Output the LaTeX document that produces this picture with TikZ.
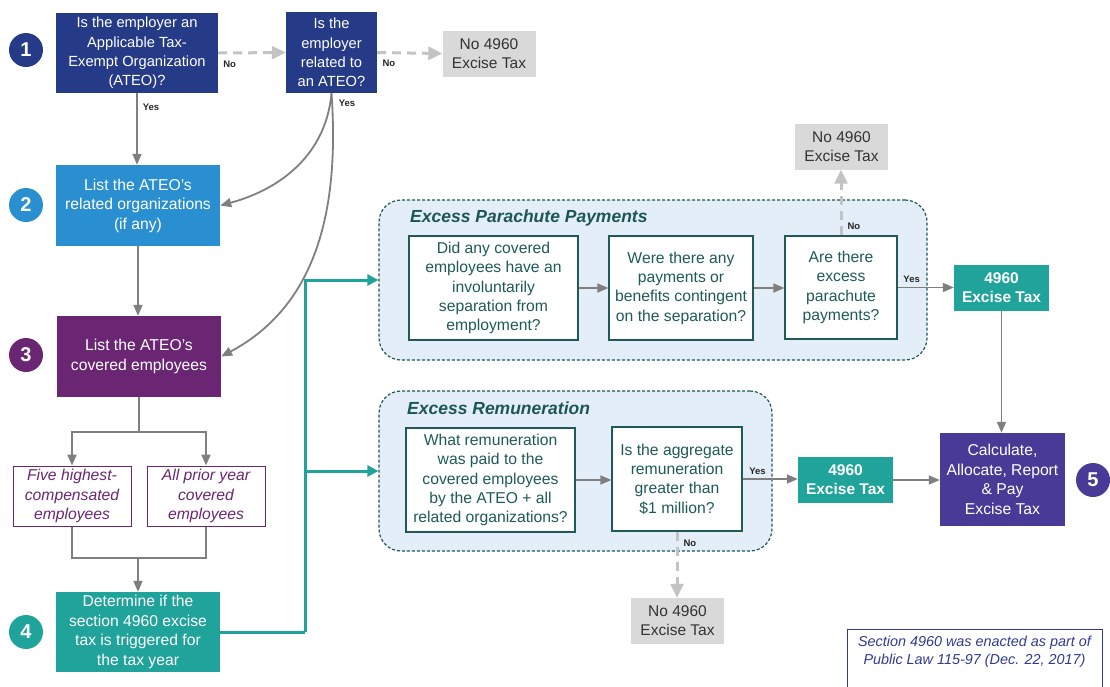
\documentclass[tikz,border=0pt]{standalone}
\usepackage{fontspec}
\setmainfont{Liberation Sans}
\usetikzlibrary{arrows.meta}

\definecolor{ateonavy}{HTML}{263B87}
\definecolor{ateoblue}{HTML}{2A8FD0}
\definecolor{ateopurple}{HTML}{6B2673}
\definecolor{taxteal}{HTML}{20A39A}
\definecolor{payindigo}{HTML}{4A3A98}
\definecolor{nogray}{HTML}{D9D9D9}
\definecolor{notext}{HTML}{333333}
\definecolor{flowgray}{HTML}{7F7F7F}
\definecolor{dashgray}{HTML}{C3C3C3}
\definecolor{groupline}{HTML}{1D5755}
\definecolor{groupfill}{HTML}{E3EEF8}
\definecolor{grouptext}{HTML}{1E5B58}
\definecolor{noteblue}{HTML}{2E3B8F}
\definecolor{lbltext}{HTML}{262626}

\begin{document}
\begin{tikzpicture}[x=1pt,y=-1pt,
  stepbox/.style={inner sep=0pt, text=white, align=center, font=\fontsize{15.7}{19.5}\selectfont},
  numdot/.style={circle, inner sep=0pt, minimum size=34pt, text=white, font=\fontsize{20}{20}\selectfont\bfseries},
  nobox/.style={fill=nogray, text=notext, inner sep=0pt, minimum width=93pt, minimum height=46pt, align=center, font=\fontsize{15.5}{19.3}\selectfont},
  taxbox/.style={fill=taxteal, text=white, inner sep=0pt, minimum width=95pt, minimum height=46pt, align=center, font=\fontsize{15.5}{19.3}\selectfont\bfseries},
  qbox/.style={draw=grouptext, fill=white, line width=1.2pt, text=grouptext, align=center, inner sep=0pt, font=\fontsize{15.7}{19.3}\selectfont},
  grp/.style={draw=groupline, fill=groupfill, dash pattern=on 3pt off 2pt, line width=1.2pt, rounded corners=22pt, inner sep=0pt},
  grptitle/.style={anchor=base west, inner sep=0pt, text=groupline, font=\fontsize{17.5}{20}\selectfont\bfseries\itshape},
  pick/.style={draw=ateopurple, fill=white, line width=1pt, text=ateopurple, align=center, inner sep=0pt, minimum width=118pt, minimum height=60pt, font=\fontsize{15.7}{19.5}\selectfont\itshape},
  flow/.style={draw=flowgray, line width=1.8pt},
  flowarrow/.style={flow, -{Triangle[length=11pt,width=9pt]}},
  noarrow/.style={draw=dashgray, line width=3pt, dash pattern=on 9pt off 6pt, -{Triangle[length=14pt,width=13pt]}},
  tealarrow/.style={draw=taxteal, line width=3pt, -{Triangle[length=11pt,width=11pt]}},
  lbl/.style={font=\fontsize{9.5}{10}\selectfont\bfseries, text=lbltext, inner sep=1pt},
]
\useasboundingbox (0,0) rectangle (1110,686);

% left column
\node[numdot, fill=ateonavy] (n1) at (26,50) {1};
\node[stepbox, fill=ateonavy, minimum width=162pt, minimum height=80pt, font=\fontsize{14.7}{19.4}\selectfont] (q1) at (137,53) {Is the employer an\\Applicable Tax-\\Exempt Organization\\(ATEO)?};
\node[stepbox, fill=ateonavy, minimum width=91pt, minimum height=81pt, font=\fontsize{14.7}{19.4}\selectfont] (q2) at (331.5,52.5) {Is the\\employer\\related to\\an ATEO?};
\node[nobox] (no1) at (489,53.5) {No 4960\\Excise Tax};

\node[numdot, fill=ateoblue] (n2) at (26,205) {2};
\node[stepbox, fill=ateoblue, minimum width=164pt, minimum height=81pt] (s2) at (138,205.5) {List the ATEO’s\\related organizations\\(if any)};

\node[numdot, fill=ateopurple] (n3) at (26,355) {3};
\node[stepbox, fill=ateopurple, minimum width=164pt, minimum height=81pt] (s3) at (139,356.5) {List the ATEO’s\\covered employees};

\node[pick] (five) at (72,496) {Five highest-\\compensated\\employees};
\node[pick] (prior) at (206,496) {All prior year\\covered\\employees};

\node[numdot, fill=taxteal] (n4) at (26,632) {4};
\node[stepbox, fill=taxteal, minimum width=164pt, minimum height=80pt] (s4) at (138,632) {Determine if the\\section 4960 excise\\tax is triggered for\\the tax year};

% parachute payments
\node[grp, minimum width=548pt, minimum height=160pt] (grpP) at (653,280) {};
\node[grptitle] (titleP) at (410,222) {Excess Parachute Payments};
\node[qbox, minimum width=169pt, minimum height=104pt] (pa) at (493.5,288) {Did any covered\\employees have an\\involuntarily\\separation from\\employment?};
\node[qbox, minimum width=144pt, minimum height=104pt] (pb) at (681,288) {Were there any\\payments or\\benefits contingent\\on the separation?};
\node[qbox, minimum width=112pt, minimum height=103pt] (pc) at (841,287.5) {Are there\\excess\\parachute\\payments?};
\node[taxbox] (tax1) at (1001.5,287.5) {4960\\Excise Tax};
\node[nobox] (no2) at (841.5,146.5) {No 4960\\Excise Tax};

% remuneration
\node[grp, minimum width=393pt, minimum height=160pt] (grpR) at (575.5,471) {};
\node[grptitle] (titleR) at (407,414) {Excess Remuneration};
\node[qbox, minimum width=169pt, minimum height=104pt] (ra) at (490.5,480) {What remuneration\\was paid to the\\covered employees\\by the ATEO + all\\related organizations?};
\node[qbox, minimum width=130pt, minimum height=104pt] (rb) at (677,479) {Is the aggregate\\remuneration\\greater than\\\$1 million?};
\node[taxbox] (tax2) at (845.5,480) {4960\\Excise Tax};
\node[nobox] (no3) at (677.5,621) {No 4960\\Excise Tax};

\node[stepbox, fill=payindigo, minimum width=125pt, minimum height=93pt] (calc) at (1002.5,479.5) {Calculate,\\Allocate, Report\\\& Pay\\Excise Tax};
\node[numdot, fill=payindigo] (n5) at (1093,480) {5};

\draw[noteblue, line width=1pt] (847,629) rectangle (1102,720);
\node[text=noteblue, align=center, inner sep=0pt, font=\fontsize{14.4}{17.5}\selectfont\itshape] (note) at (974.5,652) {Section 4960 was enacted as part of\\Public Law 115-97 (Dec. 22, 2017)};

% connectors
\draw[noarrow] (q1.east) -- (q2.west) node[lbl, pos=0.17, below=6pt] {No};
\draw[noarrow] (q2.east) -- (no1.west) node[lbl, pos=0.18, below=5pt] {No};
\draw[flowarrow] (q1.south) -- (q1.south |- s2.north) node[lbl, pos=0.2, right=4pt] {Yes};
\draw[flowarrow] (q2.south) to[out=-95, in=15] (s2.east);
\draw[flowarrow] (q2.south) to[out=-86, in=28] (s3.east);
\node[lbl] (yes2) at (347,103) {Yes};
\draw[flowarrow] (s2.south) -- (s2.south |- s3.north);

\coordinate (fork) at (139,432);
\coordinate (join) at (138,558);
\draw[flow] (s3.south) -- (fork);
\draw[flowarrow] (fork) -| (five.north);
\draw[flowarrow] (fork) -| (prior.north);
\draw[flow] (five.south) |- (join);
\draw[flow] (prior.south) |- (join);
\draw[flowarrow] (join) -- (join |- s4.north);

\coordinate (split) at (305,632);
\draw[draw=taxteal, line width=3pt] (s4.east) -- (split);
\draw[tealarrow] (split) |- (grpP.west);
\draw[tealarrow] (split) |- (grpR.west);

\draw[flowarrow] (pa) -- (pb);
\draw[flowarrow] (pb) -- (pb -| pc.west);
\draw[flowarrow] (pc.east) -- (pc.east -| tax1.west) node[lbl, pos=0.25, above=3pt] {Yes};
\draw[noarrow] (pc.north) -- (pc.north |- no2.south) node[lbl, pos=0.14, right=4pt] {No};
\draw[flowarrow] (tax1.south) -- (tax1.south |- calc.north);

\draw[flowarrow] (ra) -- (ra -| rb.west);
\draw[flowarrow] (rb.east) -- (rb.east -| tax2.west) node[lbl, pos=0.27, above=3pt] {Yes};
\draw[noarrow] (rb.south) -- (rb.south |- no3.north) node[lbl, pos=0.18, right=4pt] {No};
\draw[flowarrow] (tax2.east) -- (tax2.east -| calc.west);
\end{tikzpicture}
\end{document}
